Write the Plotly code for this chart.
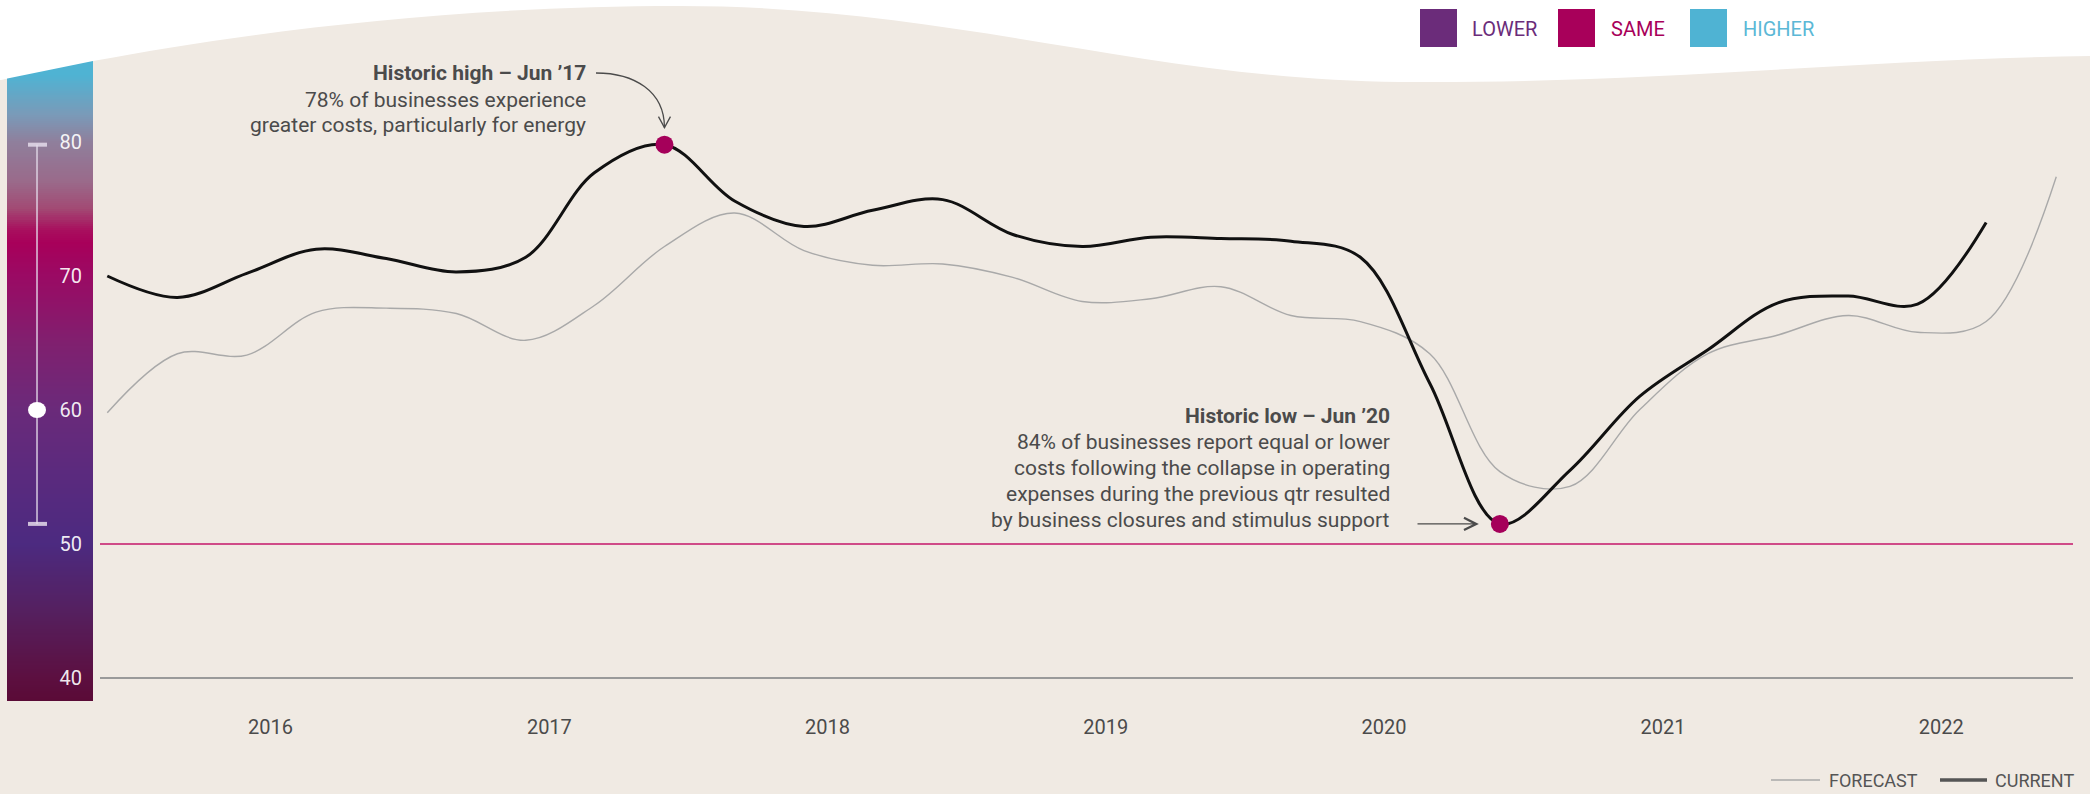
import numpy as np
import pandas as pd
import plotly.graph_objects as go

# ---------------- data ----------------
quarters = ["2015-06-01", "2015-09-01", "2015-12-01",
            "2016-03-01", "2016-06-01", "2016-09-01", "2016-12-01",
            "2017-03-01", "2017-06-01", "2017-09-01", "2017-12-01",
            "2018-03-01", "2018-06-01", "2018-09-01", "2018-12-01",
            "2019-03-01", "2019-06-01", "2019-09-01", "2019-12-01",
            "2020-03-01", "2020-06-01", "2020-09-01", "2020-12-01",
            "2021-03-01", "2021-06-01", "2021-09-01", "2021-12-01",
            "2022-03-01", "2022-06-01"]
current = [70.0, 68.4, 70.2, 72.0, 71.3, 70.3, 71.4,
           77.7, 79.8, 75.6, 73.7, 74.9, 75.7, 73.1, 72.2,
           72.9, 72.8, 72.6, 71.4, 62.0, 51.5, 55.5, 61.0,
           64.5, 68.0, 68.5, 67.9, 74.0]
forecast = [59.8, 64.2, 64.1, 67.3, 67.6, 67.2, 65.2,
            67.8, 72.2, 74.7, 71.9, 70.8, 70.9, 69.9, 68.1,
            68.3, 69.2, 67.05, 66.6, 64.2, 55.4, 54.3, 60.0,
            64.2, 65.6, 67.05, 65.8, 66.6, 77.4]
tick_years = ["2016", "2017", "2018", "2019", "2020", "2021", "2022"]
y_ticks = [40, 50, 60, 70, 80]
same_level = 50
scale_marker = 60
scale_labels = ["LOWER", "SAME", "HIGHER"]
scale_colors = ["#6B2C7A", "#A8005A", "#4FB3D3"]
scale_text_colors = ["#6B2C7A", "#A8005A", "#5BB8D6"]
series_labels = ["FORECAST", "CURRENT"]
high_title = "Historic high – Jun ’17"
high_text = ["78% of businesses experience", "greater costs, particularly for energy"]
low_title = "Historic low – Jun ’20"
low_text = ["84% of businesses report equal or lower",
            "costs following the collapse in operating",
            "expenses during the previous qtr resulted",
            "by business closures and stimulus support"]

# ---------------- geometry ----------------
W, H = 2090, 794
PX_JAN2016 = 270.4
PX_PER_YEAR = 278.4
PX_Y50 = 544.0
PX_PER_UNIT = 13.4
T0 = pd.Timestamp("2016-01-01")


def px_to_date(p):
    return T0 + pd.Timedelta(days=(p - PX_JAN2016) / PX_PER_YEAR * 365.25)


def date_to_px(d):
    return PX_JAN2016 + (pd.Timestamp(d) - T0).days / 365.25 * PX_PER_YEAR


def val_to_py(v):
    return PX_Y50 - (v - 50) * PX_PER_UNIT


def py_to_val(p):
    return 50 + (PX_Y50 - p) / PX_PER_UNIT


def px(xp):
    return xp / W


def py(yp):
    return 1 - yp / H


x_range = [px_to_date(0).strftime("%Y-%m-%d %H:%M"), px_to_date(W).strftime("%Y-%m-%d %H:%M")]
y_range = [py_to_val(H), py_to_val(0)]

FONT = "Roboto, 'Noto Sans', sans-serif"
TXT = "#4B4B4B"
BEIGE = "#F0EAE3"
SERIES_TXT = "#555555"

fig = go.Figure()

# colour bar on the left (value-coloured gradient)
bar_levels = np.linspace(py_to_val(700), py_to_val(60), 320)
bar_stops = [(38.0, "#5A0A35"), (40.0, "#5C0F40"), (45.0, "#55205F"), (50.0, "#4C2A80"),
             (55.0, "#5A2A7E"), (60.0, "#6A2A7A"), (65.0, "#80206F"), (70.0, "#9A0A64"),
             (72.5, "#A8005A"), (73.5, "#A8105E"), (75.0, "#A24A74"), (77.0, "#9A6A8A"),
             (80.0, "#8F7F9C"), (82.0, "#7A9AB8"), (85.0, "#4FB3D3"), (87.0, "#4FB3D3")]
zmin, zmax = bar_stops[0][0], bar_stops[-1][0]
colorscale = [[(v - zmin) / (zmax - zmin), c] for v, c in bar_stops]
fig.add_trace(go.Heatmap(
    x=[0.5], y=bar_levels, z=[[v] for v in bar_levels],
    colorscale=colorscale, zmin=zmin, zmax=zmax, showscale=False,
    xaxis="x2", yaxis="y2", hoverinfo="skip"))

# lines
fig.add_trace(go.Scatter(
    x=quarters, y=forecast, name=series_labels[0], mode="lines",
    line=dict(color="#A9A9A9", width=1.4, shape="spline", smoothing=1.0),
    hoverinfo="skip", showlegend=False))
fig.add_trace(go.Scatter(
    x=quarters[:len(current)], y=current, name=series_labels[1], mode="lines",
    line=dict(color="#111111", width=3, shape="spline", smoothing=1.0),
    hoverinfo="skip", showlegend=False))

hi_i = int(np.argmax(current))
lo_i = int(np.argmin(current))
fig.add_trace(go.Scatter(
    x=[quarters[hi_i], quarters[lo_i]], y=[current[hi_i], current[lo_i]],
    mode="markers", marker=dict(color="#A5005A", size=18),
    showlegend=False, hoverinfo="skip"))

shapes = []
# beige background with wavy top
pts = "M{},{} L{},{} C{},{} {},{} {},{} C{},{} {},{} {},{} C{},{} {},{} {},{} L{},{} L{},{} Z".format(
    px(0), py(80), px(93), py(61),
    px(250), py(32), px(450), py(6), px(680), py(6),
    px(950), py(6), px(1150), py(80), px(1400), py(82),
    px(1650), py(84), px(1850), py(60), px(W), py(56),
    px(W), py(H), px(0), py(H))
shapes.append(dict(type="path", xref="paper", yref="paper", path=pts,
                   fillcolor=BEIGE, line=dict(width=0), layer="below"))
# white cut on top of colour bar
shapes.append(dict(type="path", xref="paper", yref="paper",
                   path="M{},{} L{},{} L{},{} L{},{} Z".format(px(0), py(0), px(100), py(0), px(93), py(61), px(0), py(80)),
                   fillcolor="white", line=dict(width=0), layer="above"))
# reference lines
shapes.append(dict(type="line", xref="paper", yref="y", x0=px(100), x1=px(2073),
                   y0=same_level, y1=same_level, line=dict(color="#C4166A", width=1.5), layer="below"))
shapes.append(dict(type="line", xref="paper", yref="y", x0=px(100), x1=px(2073),
                   y0=y_ticks[0], y1=y_ticks[0], line=dict(color="#9A9A9A", width=2), layer="below"))

# slider decoration on the bar (range of current values)
sl_col = "rgba(228,218,234,0.85)"
cx = 0.349
shapes.append(dict(type="line", xref="x2", yref="y2", x0=cx, x1=cx,
                   y0=min(current), y1=max(current), line=dict(color=sl_col, width=1.6)))
for v in (min(current), max(current)):
    shapes.append(dict(type="line", xref="x2", yref="y2", x0=0.244, x1=0.465,
                       y0=v, y1=v, line=dict(color=sl_col, width=4)))
shapes.append(dict(type="circle", xref="x2", yref="y2", xsizemode="pixel", ysizemode="pixel",
                   xanchor=cx, yanchor=scale_marker, x0=-9, x1=9, y0=-8, y1=8,
                   fillcolor="white", line=dict(width=0)))

# curved arrow to the historic high
hx = date_to_px(quarters[hi_i])
hy = val_to_py(current[hi_i])
tx, ty = 596 - hx, hy - 73
shapes.append(dict(type="path", xref="x", yref="y", xsizemode="pixel", ysizemode="pixel",
                   xanchor=quarters[hi_i], yanchor=current[hi_i],
                   path="M{:.1f},{:.1f} C{:.1f},{:.1f} 0,{:.1f} 0,17".format(tx, ty, tx + 38, ty, ty - 18),
                   line=dict(color=TXT, width=1.3)))
shapes.append(dict(type="path", xref="x", yref="y", xsizemode="pixel", ysizemode="pixel",
                   xanchor=quarters[hi_i], yanchor=current[hi_i],
                   path="M-6,28 L0,17 L6,28", line=dict(color=TXT, width=1.3)))

# top legend squares
sq_x = [1420, 1558, 1690]
txt_x = [1470, 1609, 1741]
for i in range(3):
    shapes.append(dict(type="rect", xref="paper", yref="paper",
                       x0=px(sq_x[i]), x1=px(sq_x[i] + 37), y0=py(47), y1=py(9),
                       fillcolor=scale_colors[i], line=dict(width=0)))

annotations = []
for i in range(3):
    annotations.append(dict(xref="paper", yref="paper", x=px(txt_x[i]), y=py(29),
                            xanchor="left", yanchor="middle", showarrow=False,
                            text=scale_labels[i],
                            font=dict(family=FONT, size=20, color=scale_text_colors[i])))

# bottom series key
key_line = [(1771, 1820, "#A9A9A9", 1.5), (1940, 1987, "#555555", 3.5)]
key_text_x = [1827, 1993]
for (a, b, c, w), tx_, lab in zip(key_line, key_text_x, series_labels):
    shapes.append(dict(type="line", xref="paper", yref="paper", x0=px(a), x1=px(b),
                       y0=py(780), y1=py(780), line=dict(color=c, width=w)))
    annotations.append(dict(xref="paper", yref="paper", x=px(tx_), y=py(780),
                            xanchor="left", yanchor="middle", showarrow=False, text=lab,
                            font=dict(family=FONT, size=18, color=SERIES_TXT)))

# note texts, one annotation per line
high_lines = [("<b>" + high_title + "</b>", 73)] + list(zip(high_text, [100, 125]))
for t, yy in high_lines:
    annotations.append(dict(xref="paper", yref="paper", x=px(588), y=py(yy),
                            xanchor="right", yanchor="middle", showarrow=False, text=t,
                            font=dict(family=FONT, size=21, color=TXT)))
low_lines = [("<b>" + low_title + "</b>", 416)] + list(zip(low_text, [442, 468, 494, 520]))
for t, yy in low_lines:
    annotations.append(dict(xref="paper", yref="paper", x=px(1392), y=py(yy),
                            xanchor="right", yanchor="middle", showarrow=False, text=t,
                            font=dict(family=FONT, size=21, color=TXT)))
lx = date_to_px(quarters[lo_i])
annotations.append(dict(xref="x", yref="y", x=quarters[lo_i], y=current[lo_i],
                        text="", showarrow=True, ax=1416 - lx, ay=0,
                        arrowhead=5, arrowsize=2.0, arrowwidth=1.2, arrowcolor=TXT,
                        standoff=21))

fig.update_layout(
    width=W, height=H, margin=dict(l=0, r=0, t=0, b=0),
    paper_bgcolor="white", plot_bgcolor="rgba(0,0,0,0)",
    shapes=shapes, annotations=annotations,
    hovermode=False, showlegend=False,
    font=dict(family=FONT, color=TXT),
    xaxis=dict(type="date", range=x_range, anchor="free", position=(H - 683) / H,
               tickvals=[y + "-01-01" for y in tick_years], ticktext=tick_years,
               showgrid=False, zeroline=False, showline=False, ticks="",
               ticklabelstandoff=30, tickfont=dict(family=FONT, size=20, color=TXT)),
    yaxis=dict(range=y_range, showgrid=False, zeroline=False, showline=False,
               showticklabels=False, ticks=""),
    xaxis2=dict(domain=[px(7), px(93)], range=[0, 1], anchor="y2", visible=False),
    yaxis2=dict(range=y_range, anchor="x2", side="right", ticklabelposition="inside",
                tickvals=y_ticks, showgrid=False, zeroline=False, showline=False, ticks="",
                ticklabelstandoff=8,
                tickfont=dict(family=FONT, size=20, color="rgba(255,255,255,0.92)")),
)

fig.write_html("out.html", config={"displayModeBar": False},
               post_script="document.body.style.margin='0';document.body.style.overflow='hidden';")
